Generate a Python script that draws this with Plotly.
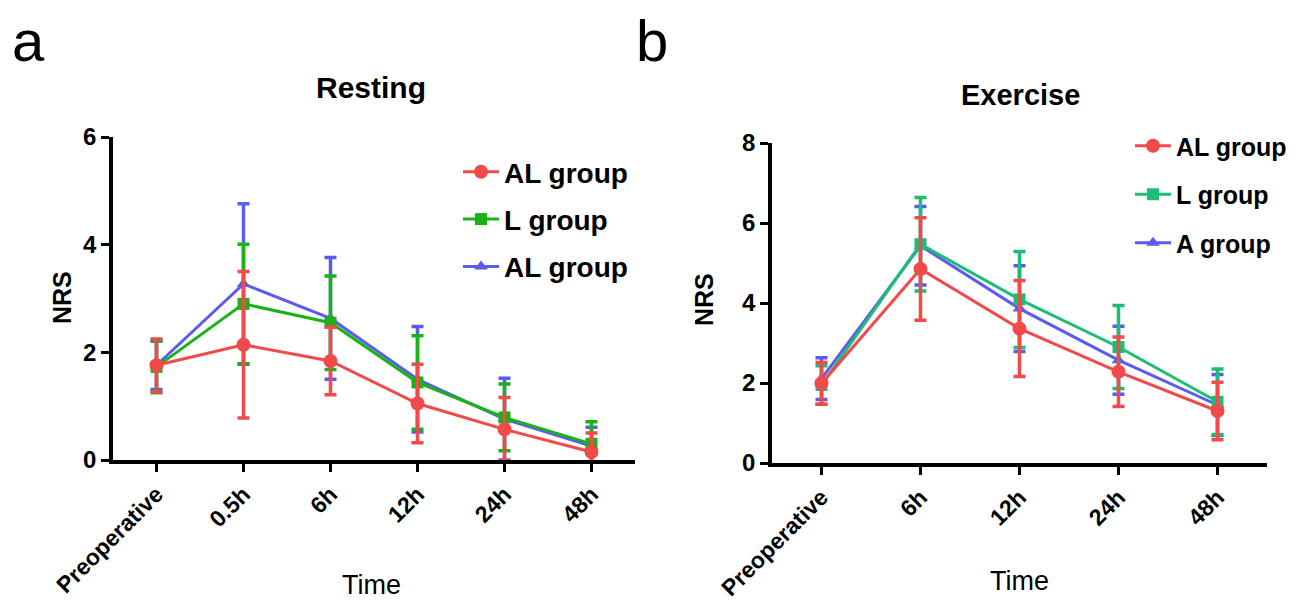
import plotly.graph_objects as go

# ---------------- data ----------------
rest_cats = ["Preoperative", "0.5h", "6h", "12h", "24h", "48h"]
rest_al_mean = [1.76, 2.14, 1.84, 1.05, 0.57, 0.15]
rest_al_sd = [0.49, 1.36, 0.63, 0.73, 0.59, 0.35]
rest_l_mean = [1.73, 2.90, 2.55, 1.44, 0.79, 0.30]
rest_l_sd = [0.48, 1.11, 0.87, 0.87, 0.62, 0.41]
rest_a_mean = [1.76, 3.27, 2.63, 1.50, 0.76, 0.26]
rest_a_sd = [0.45, 1.49, 1.13, 0.98, 0.76, 0.35]

ex_cats = ["Preoperative", "6h", "12h", "24h", "48h"]
ex_al_mean = [1.99, 4.85, 3.36, 2.28, 1.30]
ex_al_sd = [0.52, 1.28, 1.20, 0.87, 0.72]
ex_l_mean = [1.95, 5.47, 4.09, 2.90, 1.53]
ex_l_sd = [0.48, 1.17, 1.20, 1.04, 0.82]
ex_a_mean = [2.11, 5.43, 3.86, 2.57, 1.45]
ex_a_sd = [0.52, 0.98, 1.07, 0.85, 0.76]

rest_names = ["AL group", "L group", "AL group"]
ex_names = ["AL group", "L group", "A group"]

RED = "#F04A4A"
GREEN_L = "#19B319"
GREEN_R = "#1BBF74"
BLUE = "#5B5BF0"

FONT = "Arial, Liberation Sans, sans-serif"

# page has an 8px body margin; figure fills the rest of the 1298x600 window
OFF = 8
W, H = 1298 - OFF, 600 - OFF


def px_x(p):
    return (p - OFF) / W


def px_y(p):
    return 1 - (p - OFF) / H


fig = go.Figure()


def add_series(cats, mean, sd, name, color, symbol, size, xa, ya, legend, rank):
    fig.add_trace(go.Scatter(
        x=cats, y=mean, name=name, mode="lines+markers",
        xaxis=xa, yaxis=ya, legend=legend, legendrank=rank,
        legendgroup=legend + name + str(rank),
        line=dict(color=color, width=3),
        marker=dict(color=color, symbol=symbol, size=size),
        error_y=dict(type="data", array=sd, visible=True, color=color,
                     thickness=3.5, width=6),
    ))


# left panel (draw blue first, red on top)
add_series(rest_cats, rest_a_mean, rest_a_sd, rest_names[2], BLUE, "triangle-up", 12, "x", "y", "legend", 3)
add_series(rest_cats, rest_l_mean, rest_l_sd, rest_names[1], GREEN_L, "square", 12, "x", "y", "legend", 2)
add_series(rest_cats, rest_al_mean, rest_al_sd, rest_names[0], RED, "circle", 14, "x", "y", "legend", 1)

# right panel
add_series(ex_cats, ex_a_mean, ex_a_sd, ex_names[2], BLUE, "triangle-up", 12, "x2", "y2", "legend2", 3)
add_series(ex_cats, ex_l_mean, ex_l_sd, ex_names[1], GREEN_R, "square", 12, "x2", "y2", "legend2", 2)
add_series(ex_cats, ex_al_mean, ex_al_sd, ex_names[0], RED, "circle", 14, "x2", "y2", "legend2", 1)

axis_common = dict(
    showline=True, linecolor="black", linewidth=3.5,
    ticks="outside", ticklen=8, tickwidth=3, tickcolor="black",
    showgrid=False, zeroline=False, automargin=False,
)
xfont = dict(family=FONT, size=23, color="black", weight="bold")
yfont = dict(family=FONT, size=24, color="black", weight="bold")

fig.update_layout(
    width=W, height=H,
    margin=dict(l=0, r=0, t=0, b=0, autoexpand=False),
    paper_bgcolor="white", plot_bgcolor="white",
    font=dict(family=FONT, color="black"),
    xaxis=dict(domain=[px_x(113), px_x(635)], anchor="y", type="category",
               categoryorder="array", categoryarray=rest_cats,
               range=[-0.5, 5.5], tickangle=-45, tickfont=xfont, **axis_common),
    yaxis=dict(domain=[px_y(460), px_y(137)], anchor="x", range=[0, 6],
               tickvals=[0, 2, 4, 6], tickfont=yfont, **axis_common),
    xaxis2=dict(domain=[px_x(772), px_x(1267)], anchor="y2", type="category",
                categoryorder="array", categoryarray=ex_cats,
                range=[-0.5, 4.5], tickangle=-45, tickfont=xfont, **axis_common),
    yaxis2=dict(domain=[px_y(463), px_y(143)], anchor="x2", range=[0, 8],
                tickvals=[0, 2, 4, 6, 8], tickfont=yfont, **axis_common),
    legend=dict(x=px_x(458), y=px_y(147), xanchor="left", yanchor="top",
                bgcolor="rgba(0,0,0,0)", tracegroupgap=8, itemwidth=36,
                font=dict(family=FONT, size=28, color="black", weight="bold")),
    legend2=dict(x=px_x(1130), y=px_y(123), xanchor="left", yanchor="top",
                 bgcolor="rgba(0,0,0,0)", tracegroupgap=13, itemwidth=36,
                 font=dict(family=FONT, size=25, color="black", weight="bold")),
    showlegend=True,
)

annos = [
    dict(text="a", x=px_x(28), y=px_y(41), size=58, bold=False),
    dict(text="b", x=px_x(652), y=px_y(41), size=58, bold=False),
    dict(text="Resting", x=px_x(371), y=px_y(88), size=30, bold=True),
    dict(text="Exercise", x=px_x(1020), y=px_y(95), size=29, bold=True),
    dict(text="Time", x=px_x(371), y=px_y(585), size=27, bold=False),
    dict(text="Time", x=px_x(1019), y=px_y(581), size=27, bold=False),
]
for a in annos:
    fig.add_annotation(
        text=a["text"], x=a["x"], y=a["y"], xref="paper", yref="paper",
        xanchor="center", yanchor="middle", showarrow=False,
        font=dict(family=FONT, size=a["size"], color="black",
                  weight="bold" if a["bold"] else "normal"),
    )

for xp, yp in [(62, 298), (704, 300)]:
    fig.add_annotation(
        text="NRS", x=px_x(xp), y=px_y(yp), xref="paper", yref="paper",
        xanchor="center", yanchor="middle", showarrow=False, textangle=-90,
        font=dict(family=FONT, size=25, color="black", weight="bold"),
    )

fig.write_html("out.html")
